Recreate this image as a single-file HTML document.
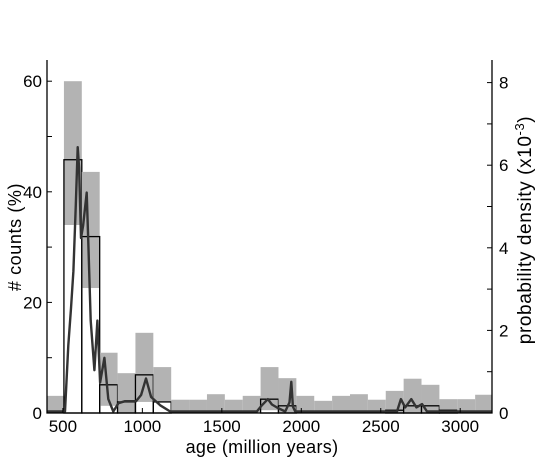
<!DOCTYPE html>
<html><head><meta charset="utf-8"><style>
body{margin:0;background:#fff;}
svg text{font-family:"Liberation Sans",sans-serif;fill:#000;}
</style></head><body>
<svg id="chart" width="538" height="459" viewBox="0 0 538 459" xmlns="http://www.w3.org/2000/svg">
<g id="bars"></g>
<g id="curve"></g>
<g id="axes"></g>
<text x="0" y="0" font-size="18" letter-spacing="0.6" text-anchor="middle" transform="translate(21,237) rotate(-90)"># counts (%)</text>
<text x="0" y="0" font-size="19" letter-spacing="0.6" text-anchor="middle" transform="translate(531,230) rotate(-90)">probability density (x10<tspan font-size="13" dy="-7">-3</tspan><tspan dy="7">)</tspan></text>
<text x="262" y="453" font-size="18" letter-spacing="0.3" text-anchor="middle">age (million years)</text>
</svg>
<script>
const binStart = 394, binWidth = 112.5;
const grayHigh = [3.1,60,43.6,10.9,7.2,14.5,8.3,2.4,2.4,3.4,2.4,3.1,8.3,6.3,3.1,2.2,3.1,3.4,2.4,4.0,6.2,5.1,2.5,2.5,3.3];
const grayLow  = [0,34,22.6,1.3,0,2.0,2.0,0,0,0,0,0,0.5,0,0,0,0,0,0,0,0,0,0,0,0];
const estimate = [0,45.8,31.9,5.1,2.0,6.9,2.0,0,0,0,0,0,2.5,1.3,0,0,0,0,0,0.5,1.3,1.3,0.5,0,0];
const kdeAge = [400,500,513,534,551,566,581,593,602,614,627,650,660,675,698,717,734,761,786,817,849,891,960,992,1023,1055,1112,1175,1720,1752,1790,1815,1846,1899,1926,1937,1947,1962,2602,2627,2654,2692,2724,2760,2791,3200];
const kdeVal = [0,0,0,1.6,2.5,3.4,5.0,6.4,5.9,4.2,4.5,5.3,4.1,2.2,1.0,2.2,0.7,1.3,0.3,0,0.2,0.25,0.25,0.4,0.8,0.35,0.15,0,0,0.15,0.3,0.17,0.1,0,0.22,0.72,0.12,0,0,0.3,0.1,0.3,0.1,0.18,0,0];
const xTicks = [500,1000,1500,2000,2500,3000];
const yLeftTicks = [0,20,40,60];
const yRightTicks = [0,2,4,6,8];
const NS="http://www.w3.org/2000/svg";
const L=47,R=492,B=413,T=60;
const X=a=>L+(a-400)*(R-L)/2800;
const YL=p=>B-p*5.53;
const YR=d=>B-d*41.3;
function mk(tag,at,parent){const e=document.createElementNS(NS,tag);for(const k in at)e.setAttribute(k,at[k]);parent.appendChild(e);return e;}
const bars=document.getElementById('bars'),curve=document.getElementById('curve'),axes=document.getElementById('axes');
grayHigh.forEach((h,i)=>{
  const a0=binStart+i*binWidth,a1=Math.min(a0+binWidth,3200);
  const x0=X(Math.max(a0,400)),x1=X(a1);
  const g=mk('rect',{x:x0,y:YL(h),width:x1-x0,height:YL(grayLow[i])-YL(h),fill:'#b3b3b3'},bars);
  
  
  if(estimate[i]>0){
    const r=mk('rect',{x:x0,y:YL(estimate[i]),width:x1-x0,height:YL(0)-YL(estimate[i]),fill:'none',stroke:'#000','stroke-width':1.3},bars);
    
    
  }
});
const pts=kdeAge.map((a,i)=>X(a).toFixed(1)+','+(YR(kdeVal[i])-1.5).toFixed(1)).join(' ');
const pl=mk('polyline',{points:pts,fill:'none',stroke:'#333','stroke-width':2.4,'stroke-linejoin':'round'},curve);


const al=mk('path',{d:`M${L},${T}V${B}H${R}V${T}`,fill:'none',stroke:'#000','stroke-width':1.3},axes);


for(let p=0;p<=60;p+=10){const t=mk('line',{x1:L,x2:L+5,y1:YL(p),y2:YL(p),stroke:'#000'},axes);}
for(let d=0;d<=8;d++){const t=mk('line',{x1:R,x2:R-5,y1:YR(d),y2:YR(d),stroke:'#000'},axes);}
yLeftTicks.forEach(p=>{const t=mk('text',{x:42,y:YL(p)+6,'font-size':17,'text-anchor':'end'},axes);t.textContent=p;});
yRightTicks.forEach(d=>{const t=mk('text',{x:499,y:YR(d)+6,'font-size':17},axes);t.textContent=d;});
xTicks.forEach(a=>{
  const t=mk('line',{x1:X(a),x2:X(a),y1:B,y2:B-5,stroke:'#000'},axes);
  const l=mk('text',{x:X(a),y:B+19,'font-size':17,'text-anchor':'middle'},axes);l.textContent=a;
});
</script>
</body></html>
